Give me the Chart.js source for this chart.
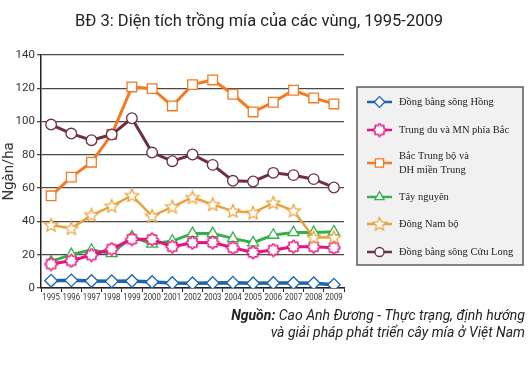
<!DOCTYPE html>
<html>
<head>
<meta charset="utf-8">
<script src="https://cdn.jsdelivr.net/npm/chart.js@4/dist/chart.umd.min.js"></script>
<style>
  html, body { margin: 0; padding: 0; background: #fff; }
  #wrap { width: 530px; height: 370px; position: relative; }
</style>
</head>
<body>
<div id="wrap"><canvas id="canvas"></canvas></div>
<script>
// years on the x axis
let years = ['1995','1996','1997','1998','1999','2000','2001','2002','2003','2004','2005','2006','2007','2008','2009'];

// area (thousand ha)
let dongBangSongHong = [4.4, 4.6, 4.2, 4.0, 4.2, 3.6, 3.0, 2.8, 3.0, 3.2, 2.8, 3.0, 3.0, 2.8, 2.0];
let trungDuMNPhiaBac = [14.4, 16.4, 19.8, 23.4, 29.4, 29.2, 24.8, 27.2, 27.4, 24.2, 21.4, 22.8, 24.8, 24.8, 24.2];
let bacTrungBo       = [55.4, 66.6, 75.6, 92.2, 120.8, 119.8, 109.4, 122.2, 125.0, 116.4, 105.8, 111.6, 118.8, 114.2, 110.6];
let tayNguyen        = [15.8, 20.2, 22.8, 20.8, 30.8, 26.4, 28.2, 32.8, 32.8, 29.8, 27.2, 31.8, 33.4, 33.4, 33.8];
let dongNamBo        = [37.8, 35.8, 43.8, 49.2, 55.6, 43.2, 48.8, 54.4, 50.2, 46.2, 45.2, 51.2, 46.4, 30.4, 30.4];
let cuuLong          = [98.2, 92.8, 88.8, 92.2, 102.0, 81.4, 76.2, 80.2, 74.0, 64.4, 64.0, 69.2, 67.8, 65.4, 60.4];

// legend labels (some wrap on two lines)
let labels = [
  ['Đồng bằng sông Hồng'],
  ['Trung du và MN phía Bắc'],
  ['Bắc Trung bộ và', 'DH miền Trung'],
  ['Tây nguyên'],
  ['Đông Nam bộ'],
  ['Đồng bằng sông Cửu Long']
];

let colors = ['#1b64ae', '#e5137f', '#f27a22', '#36b04b', '#e9a23b', '#6e2f43'];

let sans = '"Liberation Sans Narrow", "Roboto", sans-serif';

// small canvases for the marker shapes Chart.js doesn't have
function starImg(color) {
  let c = document.createElement('canvas');
  c.width = 16; c.height = 16;
  let ctx = c.getContext('2d');
  ctx.beginPath();
  for (let i = 0; i < 10; i++) {
    let r = (i % 2 == 0) ? 7 : 3.1;
    let a = -Math.PI / 2 + i * Math.PI / 5;
    let x = 8 + r * Math.cos(a), y = 8.4 + r * Math.sin(a);
    if (i == 0) ctx.moveTo(x, y); else ctx.lineTo(x, y);
  }
  ctx.closePath();
  ctx.fillStyle = '#fff';
  ctx.fill();
  ctx.strokeStyle = color;
  ctx.lineWidth = 1.2;
  ctx.stroke();
  return c;
}

function flowerImg(color) {
  let c = document.createElement('canvas');
  c.width = 15; c.height = 15;
  let ctx = c.getContext('2d');
  ctx.beginPath();
  for (let i = 0; i <= 80; i++) {
    let a = i / 80 * Math.PI * 2;
    let r = 5.4 + 0.8 * Math.cos(8 * a);
    let x = 7.5 + r * Math.cos(a), y = 7.5 + r * Math.sin(a);
    if (i == 0) ctx.moveTo(x, y); else ctx.lineTo(x, y);
  }
  ctx.closePath();
  ctx.fillStyle = '#fff';
  ctx.fill();
  ctx.strokeStyle = color;
  ctx.lineWidth = 1.4;
  ctx.stroke();
  return c;
}

function makeSet(i, data, style, radius, lw) {
  return {
    label: labels[i].join(' '),
    data: data,
    borderColor: colors[i],
    backgroundColor: '#fff',
    borderWidth: lw,
    pointStyle: style,
    pointRadius: radius,
    pointBorderWidth: 1.3,
    pointBorderColor: colors[i],
    pointBackgroundColor: '#fff',
    tension: 0
  };
}

let datasets = [
  makeSet(5, cuuLong, 'circle', 5.3, 3),
  makeSet(2, bacTrungBo, 'rect', 6.8, 3),
  makeSet(4, dongNamBo, starImg(colors[4]), 6, 2.5),
  makeSet(1, trungDuMNPhiaBac, flowerImg(colors[1]), 6, 3),
  makeSet(3, tayNguyen, 'triangle', 6.3, 3),
  makeSet(0, dongBangSongHong, 'rectRot', 6.3, 3.5)
];
let legendOrder = [5, 3, 1, 4, 2, 0]; // dataset index for each legend row

// draws the title, the x labels, the boxed legend and the source note
let extras = {
  id: 'extras',
  afterDraw(chart) {
    let ctx = chart.ctx;
    ctx.save();

    // title
    ctx.fillStyle = '#222';
    ctx.font = '17px ' + sans;
    ctx.textAlign = 'center';
    ctx.textBaseline = 'alphabetic';
    fitText(ctx, 'BĐ 3: Diện tích trồng mía của các vùng, 1995-2009', 259, 26, 368);

    // x labels, squeezed like the condensed face in the original
    let xs = chart.scales.x;
    ctx.font = '9.5px ' + sans;
    ctx.fillStyle = '#333';
    ctx.textBaseline = 'top';
    for (let i = 0; i < years.length; i++) {
      fitText(ctx, years[i], xs.getPixelForValue(i), xs.top + 5, 17.5);
    }

    // legend box
    ctx.fillStyle = '#f1f1f1';
    ctx.fillRect(357, 87, 166, 178);
    ctx.strokeStyle = '#5a5a5a';
    ctx.lineWidth = 1.5;
    ctx.strokeRect(357, 87, 166, 178);

    let rows = [102, 130, 163, 197, 224, 252];
    ctx.font = '10.5px "Liberation Serif", "DejaVu Serif", serif';
    ctx.textAlign = 'left';
    ctx.textBaseline = 'middle';
    for (let r = 0; r < rows.length; r++) {
      let ds = chart.data.datasets[legendOrder[r]];
      let y = rows[r];
      ctx.strokeStyle = ds.borderColor;
      ctx.lineWidth = 2.5;
      ctx.beginPath();
      ctx.moveTo(367, y);
      ctx.lineTo(392, y);
      ctx.stroke();
      ctx.fillStyle = '#fff';
      ctx.strokeStyle = ds.borderColor;
      ctx.lineWidth = 1.3;
      Chart.helpers.drawPoint(ctx, {pointStyle: ds.pointStyle, radius: ds.pointRadius * 0.85, rotation: 0, borderWidth: 1.3}, 379.5, y);
      ctx.fillStyle = '#222';
      let lines = labels[r];
      for (let k = 0; k < lines.length; k++) {
        ctx.fillText(lines[k], 399, y + (k - (lines.length - 1) / 2) * 14);
      }
    }

    // source note
    ctx.textAlign = 'left';
    ctx.textBaseline = 'alphabetic';
    ctx.fillStyle = '#222';
    let bold = 'bold italic 14px ' + sans;
    let ital = 'italic 14px ' + sans;
    drawRight(ctx, [[bold, 'Nguồn: '], [ital, 'Cao Anh Đương - Thực trạng, định hướng']], 525, 320, 312);
    drawRight(ctx, [[ital, 'và giải pháp phát triển cây mía ở Việt Nam']], 525, 337, 277);

    ctx.restore();
  }
};

// squeeze text into a given width if the installed font runs wider
function fitText(ctx, text, cx, y, w) {
  let m = ctx.measureText(text).width;
  let s = Math.min(1, w / m);
  ctx.save();
  ctx.textAlign = 'center';
  ctx.translate(cx, y);
  ctx.scale(s, 1);
  ctx.fillText(text, 0, 0);
  ctx.restore();
}

function drawRight(ctx, parts, right, y, w) {
  let total = 0;
  for (let p of parts) { ctx.font = p[0]; total += ctx.measureText(p[1]).width; }
  let s = Math.min(1, w / total);
  ctx.save();
  ctx.translate(right - total * s, y);
  ctx.scale(s, 1);
  let x = 0;
  for (let p of parts) {
    ctx.font = p[0];
    ctx.fillText(p[1], x, 0);
    x += ctx.measureText(p[1]).width;
  }
  ctx.restore();
}

let options = {
  type: 'line',
  data: { labels: years, datasets: datasets },
  options: {
    responsive: true,
    maintainAspectRatio: false,
    animation: false,
    events: [],
    layout: { padding: { top: 55, right: 186, bottom: 66, left: 0 } },
    plugins: {
      legend: { display: false },
      title: { display: false },
      tooltip: { enabled: false }
    },
    scales: {
      x: {
        offset: true,
        grid: { display: true, drawOnChartArea: false, drawTicks: true, tickLength: 4, color: '#222', offset: true },
        border: { color: '#222', width: 1.5 },
        ticks: { display: false, autoSkip: false },
        afterFit(scale) { scale.height = 16; }
      },
      y: {
        min: 0,
        max: 140,
        ticks: {
          stepSize: 20, padding: 2, color: '#333',
          font: { family: sans, size: 11.5 }
        },
        grid: { color: '#4a4a4a', lineWidth: 1.3, tickLength: 4, drawTicks: true },
        border: { color: '#222', width: 1.5 },
        title: {
          display: true, text: 'Ngàn/ha', color: '#333', padding: 0,
          font: { family: sans, size: 15 }
        },
        afterFit(scale) { scale.width = 41; }
      }
    }
  },
  plugins: [extras]
};

let chart = new Chart(document.getElementById('canvas'), options);
</script>
</body>
</html>
